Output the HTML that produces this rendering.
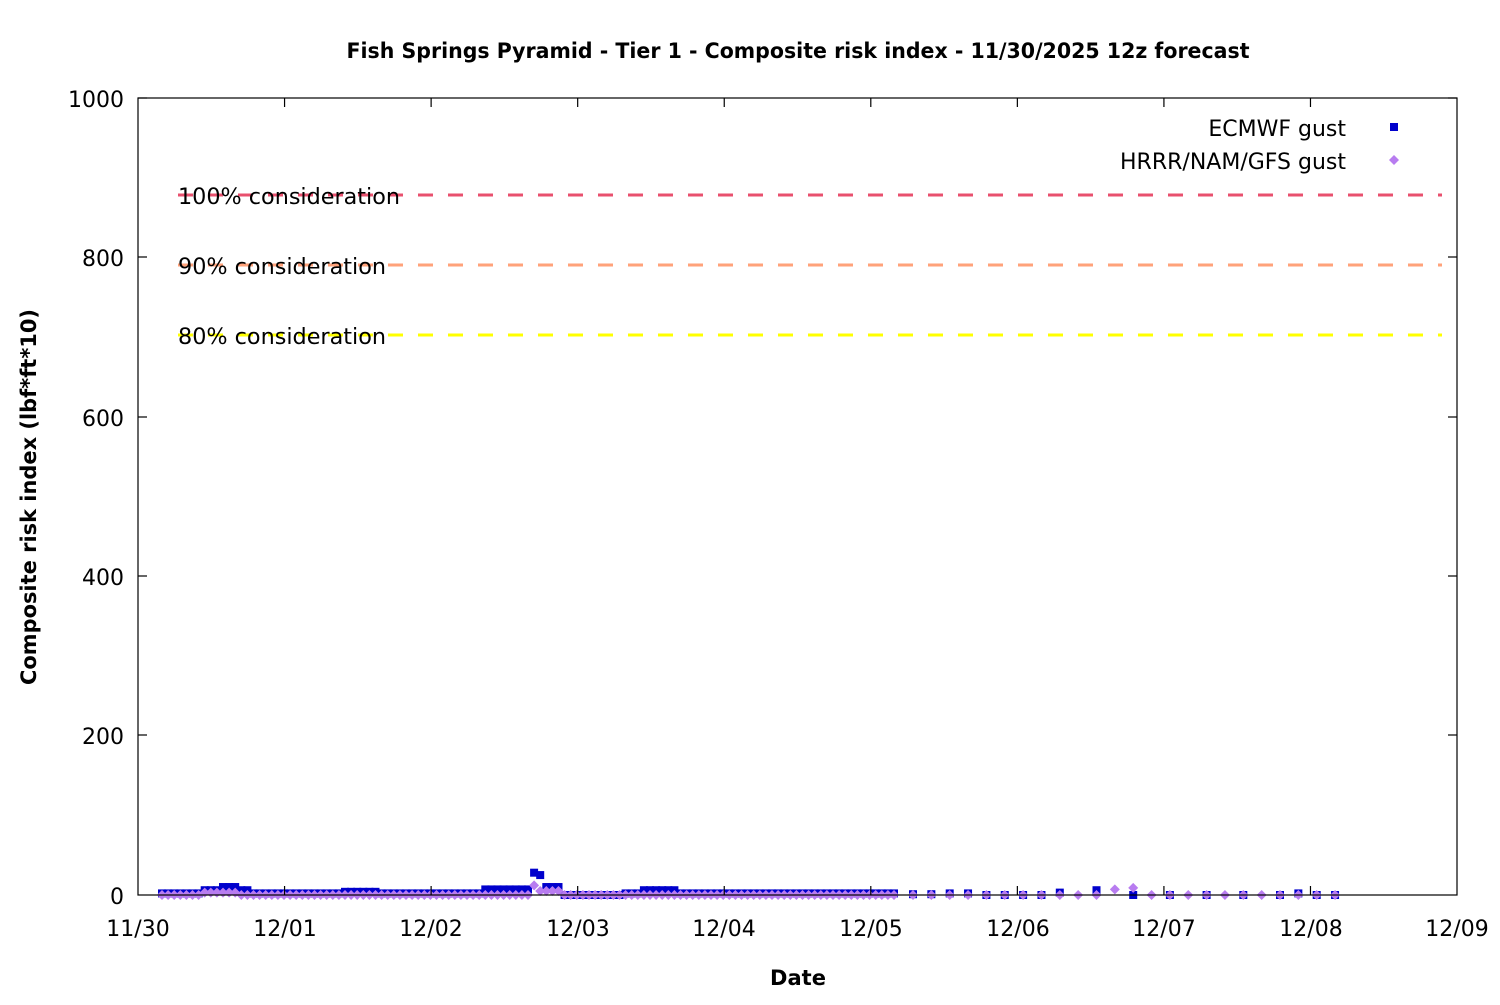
<!DOCTYPE html>
<html><head><meta charset="utf-8"><style>
body{margin:0;background:#fff}
svg text{font-family:"DejaVu Sans","Liberation Sans",sans-serif}
</style></head><body>
<svg id="s" width="1500" height="1000" xmlns="http://www.w3.org/2000/svg">
<rect width="1500" height="1000" fill="#fff"/>
<text x="798" y="58" text-anchor="middle" font-size="21" font-weight="bold" textLength="903" lengthAdjust="spacingAndGlyphs">Fish Springs Pyramid - Tier 1 - Composite risk index - 11/30/2025 12z forecast</text>
<g font-size="22" text-anchor="end">
<text x="124" y="107">1000</text><text x="124" y="266">800</text><text x="124" y="426">600</text>
<text x="124" y="585">400</text><text x="124" y="744">200</text><text x="124" y="904">0</text>
</g>
<g font-size="22" text-anchor="middle">
<text x="138" y="936">11/30</text><text x="285" y="936">12/01</text><text x="431" y="936">12/02</text>
<text x="578" y="936">12/03</text><text x="724" y="936">12/04</text><text x="871" y="936">12/05</text>
<text x="1018" y="936">12/06</text><text x="1164" y="936">12/07</text><text x="1311" y="936">12/08</text>
<text x="1457" y="936">12/09</text>
</g>
<text x="798" y="985" text-anchor="middle" font-size="21" font-weight="bold">Date</text>
<text transform="translate(36,497) rotate(-90)" text-anchor="middle" font-size="21" font-weight="bold" textLength="376" lengthAdjust="spacingAndGlyphs">Composite risk index (lbf*ft*10)</text>
<g stroke-width="3" stroke-dasharray="15,15" fill="none">
<line x1="178" y1="195" x2="1442" y2="195" stroke="#e8506e"/>
<line x1="178" y1="265" x2="1442" y2="265" stroke="#ffa27a"/>
<line x1="178" y1="335" x2="1442" y2="335" stroke="#ffff00"/>
</g>
<g font-size="22">
<text x="178" y="204" textLength="222" lengthAdjust="spacingAndGlyphs">100% consideration</text>
<text x="178" y="274" textLength="208" lengthAdjust="spacingAndGlyphs">90% consideration</text>
<text x="178" y="344" textLength="208" lengthAdjust="spacingAndGlyphs">80% consideration</text>
</g>
<g font-size="22" text-anchor="end">
<text x="1346" y="136">ECMWF gust</text>
<text x="1346" y="169">HRRR/NAM/GFS gust</text>
</g>
<rect x="1390" y="123" width="8" height="8" fill="#0000cc"/>
<polygon points="1394,155 1399,160 1394,165 1389,160" fill="#b87cf0"/>
<g id="d"></g>
<rect x="138" y="98" width="1319" height="797" fill="none" stroke="#000" stroke-width="1.2"/>
<g id="t" stroke="#000" stroke-width="1.2"></g>
</svg>
<script>
var t=document.getElementById('t'),h='';
for(var i=1;i<9;i++){var x=138+i*146.56;h+='<line x1="'+x+'" y1="895" x2="'+x+'" y2="886"/><line x1="'+x+'" y1="98" x2="'+x+'" y2="107"/>';}
[98,257,417,576,735].forEach(function(y){h+='<line x1="138" y1="'+y+'" x2="147" y2="'+y+'"/><line x1="1457" y1="'+y+'" x2="1448" y2="'+y+'"/>';});
t.innerHTML=h;
var Y=function(v){return 895-v*0.797;};
var e=[],r=[];
function ev(x){var v=2;
 if(x>220&&x<240)v=10;else if(x>200&&x<250)v=6;
 if(x>530&&x<538)v=28;else if(x>=538&&x<544)v=25;else if(x>=544&&x<560)v=10;
 if(x>480&&x<530)v=7;if(x>340&&x<380)v=4;if(x>640&&x<680)v=6;if(x>560&&x<620)v=0;return v;}
function rv(x){var v=0;if(x>530&&x<540)v=12;else if(x>=540&&x<560)v=5;if(x>200&&x<240)v=3;return v;}
for(var x=162;x<=896;x+=6.1){e.push([x,ev(x)]);r.push([x,rv(x)]);}
var k=0;for(var x=913;x<=1336;x+=18.35,k++){
 var evv=[1,1,2,2,0,0,0,0,3,0,6,0,0,0,0,2,0,4,0,0,0,2][k]||0;
 if(k!=9&&k!=11&&k!=13&&k!=15&&k!=17&&k!=19)e.push([x,evv]);
 var rvv=(k==11?7:(k==12?9:0));r.push([x,rvv]);}
var s='';
e.forEach(function(p){s+='<rect x="'+(p[0]-4)+'" y="'+(Y(p[1])-4)+'" width="8" height="8" fill="#0000cc"/>';});
r.forEach(function(p){var y=Y(p[1]);s+='<polygon points="'+p[0]+','+(y-5)+' '+(p[0]+5)+','+y+' '+p[0]+','+(y+5)+' '+(p[0]-5)+','+y+'" fill="#b87cf0"/>';});
document.getElementById('d').innerHTML=s;
</script>
</body></html>
